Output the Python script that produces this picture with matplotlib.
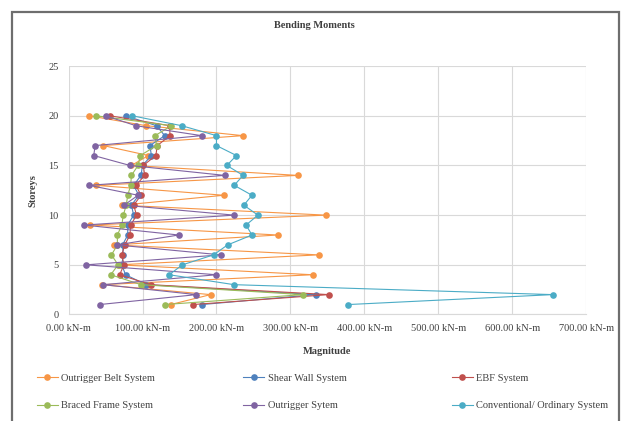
import matplotlib
matplotlib.use("Agg")
import matplotlib.pyplot as plt
from matplotlib.patches import Rectangle
from matplotlib.ticker import FuncFormatter, MultipleLocator

storeys = list(range(1, 21))

# bending moment (kN-m) per storey, storey 1 -> 20
outrigger_belt = [138, 192, 45, 330, 68, 338, 61, 283, 29, 348,
                  72, 210, 37, 310, 85, 108, 47, 236, 105, 28]
shear_wall = [180, 334, 105, 77, 72, 74, 73, 80, 80, 88,
              85, 95, 88, 98, 100, 112, 110, 130, 119, 77]
ebf = [168, 352, 111, 69, 75, 72, 76, 83, 84, 92,
       88, 98, 91, 103, 101, 118, 120, 137, 137, 56]
braced_frame = [130, 317, 98, 57, 67, 58, 66, 66, 72, 74,
                78, 80, 84, 85, 94, 97, 119, 117, 139, 37]
outrigger = [42, 173, 47, 200, 24, 206, 65, 149, 21, 224,
             75, 94, 28, 211, 83, 34, 36, 180, 91, 50]
conventional = [378, 655, 224, 136, 154, 196, 215, 248, 240, 256,
                237, 248, 224, 236, 214, 227, 200, 200, 153, 86]

series = [
    ("Outrigger Belt System", outrigger_belt, "#F79646"),
    ("Shear Wall System", shear_wall, "#4F81BD"),
    ("EBF System", ebf, "#C0504D"),
    ("Braced Frame System", braced_frame, "#9BBB59"),
    ("Outrigger Sytem", outrigger, "#8064A2"),
    ("Conventional/ Ordinary System", conventional, "#4BACC6"),
]

plt.rcParams["font.family"] = ["Liberation Serif", "DejaVu Serif"]

fig = plt.figure(figsize=(6.29, 4.21), dpi=100)
ax = fig.add_axes([0.109, 0.253, 0.823, 0.590])

handles = {}
for name, vals, col in series:
    h, = ax.plot(vals, storeys, color=col, lw=0.8, marker="o", ms=4.8,
                 markeredgewidth=0, label=name)
    handles[name] = h

ax.set_xlim(0, 700)
ax.set_ylim(0, 25)
ax.xaxis.set_major_locator(MultipleLocator(100))
ax.yaxis.set_major_locator(MultipleLocator(5))
ax.xaxis.set_major_formatter(FuncFormatter(lambda v, p: f"{v:.2f} kN-m"))
ax.grid(True, color="#D9D9D9", lw=0.8)
ax.set_axisbelow(True)
for s in ["top", "right", "left"]:
    ax.spines[s].set_visible(False)
ax.spines["bottom"].set_color("#D9D9D9")
ax.tick_params(length=0, labelsize=7.5, colors="#404040", pad=7)

ax.set_xlabel("Magnitude", fontsize=7.5, fontweight="bold", color="#404040", labelpad=10)
ax.set_ylabel("Storeys", fontsize=7.5, fontweight="bold", color="#404040", labelpad=8)
fig.text(0.5, 0.940, "Bending Moments", ha="center", va="center",
         fontsize=7.5, fontweight="bold", color="#404040")

# legend: three columns placed by hand
cols = [("Outrigger Belt System", "Braced Frame System", 0.052),
        ("Shear Wall System", "Outrigger Sytem", 0.380),
        ("EBF System", "Conventional/ Ordinary System", 0.712)]
for a, b, x in cols:
    fig.legend([handles[a], handles[b]], [a, b], loc="upper left",
               bbox_to_anchor=(x, 0.123), frameon=False, fontsize=7.5,
               labelspacing=1.75, handlelength=2.0, handletextpad=0.35,
               borderaxespad=0, labelcolor="#404040")

fig.patches.append(Rectangle((12 / 629, -0.05), 607 / 629, 1 - 12 / 421 + 0.05,
                             transform=fig.transFigure, fill=False,
                             edgecolor="#6E6E6E", lw=1.6))

fig.savefig("out.png", dpi=100)
